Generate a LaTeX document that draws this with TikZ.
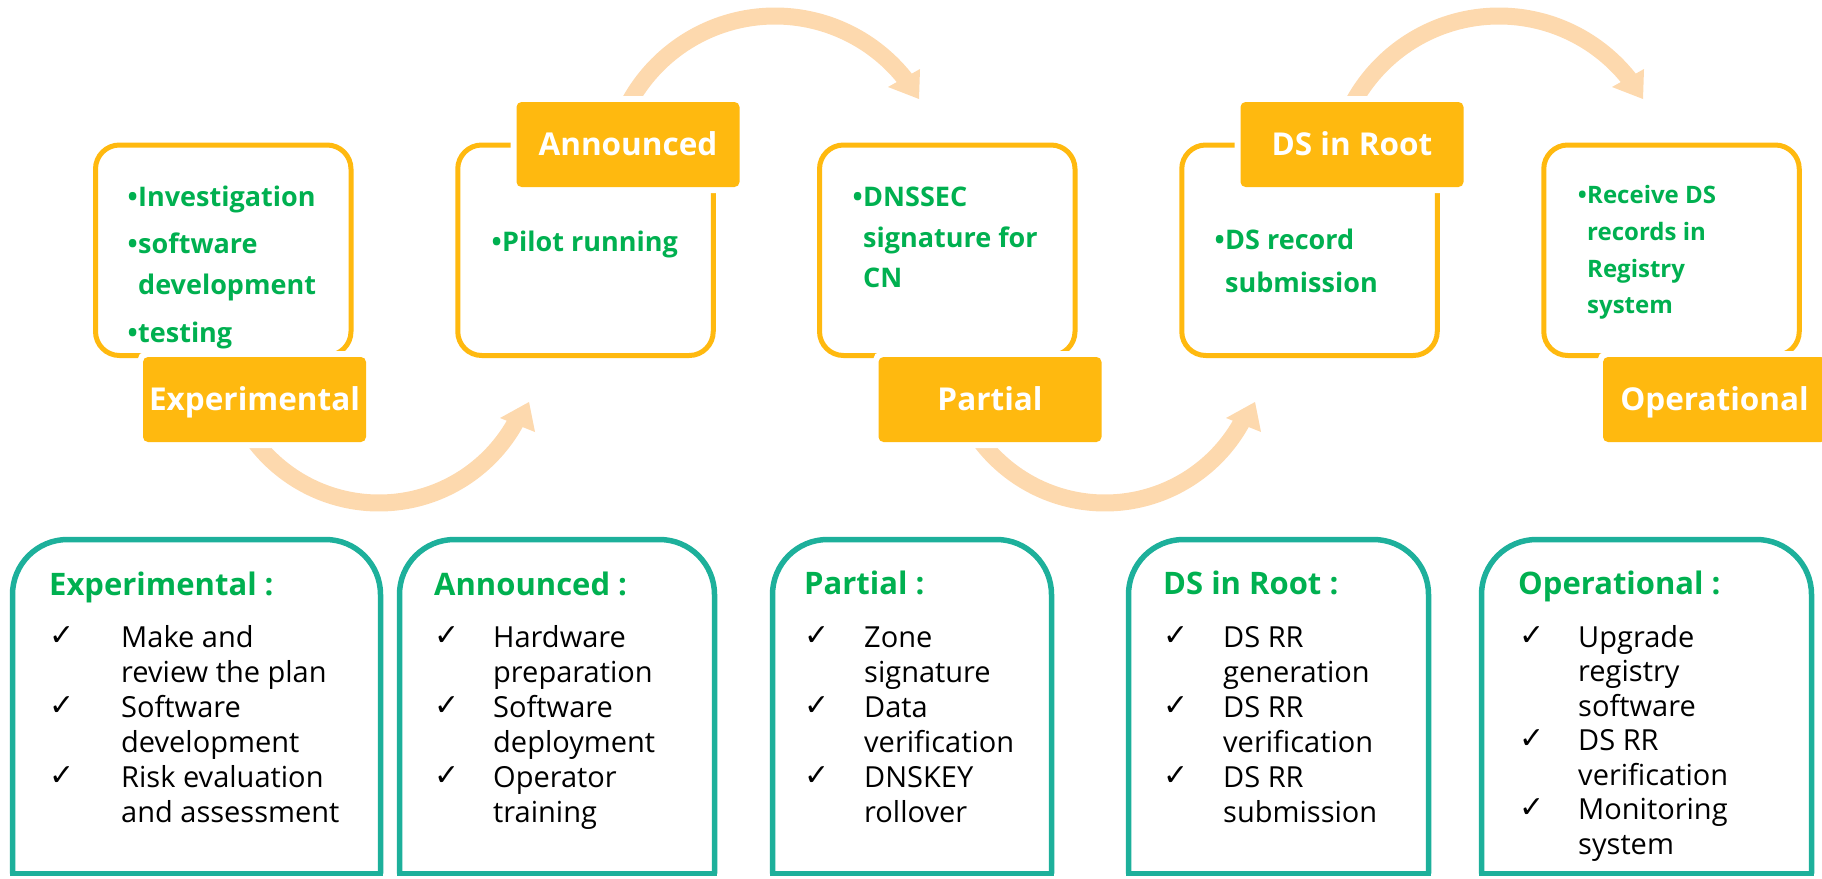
\documentclass[tikz,border=0pt]{standalone}
\usepackage{fontspec}
\setmainfont{Open Sans}
\newfontfamily\chkfont{DejaVu Sans}
\definecolor{orangeF}{HTML}{FFB90F}
\definecolor{peachA}{HTML}{FDD9AE}
\definecolor{greenT}{HTML}{00B050}
\definecolor{tealB}{HTML}{1DB09B}
\begin{document}
\begin{tikzpicture}[x=1pt,y=-1pt,
 frm/.style={draw=orangeF,line width=5pt,fill=white,rounded corners=24pt,minimum width=255.5pt,minimum height=210.5pt,inner sep=0pt},
 labbox/.style={fill=orangeF,rounded corners=5pt,preaction={draw=white,line width=12pt},minimum width=223pt,minimum height=85pt,inner sep=0pt,text=white,font=\fontsize{31.5pt}{38pt}\selectfont\bfseries,text height=22.5pt,text depth=0pt},
 arr/.style={draw=peachA,line width=17pt},
 arrhead/.style={fill=peachA},
 gtxt/.style={anchor=base west,inner sep=0pt,text=greenT,font=\fontsize{27pt}{32pt}\selectfont\bfseries},
 gbul/.style={anchor=base east,inner sep=0pt,text=greenT,font=\fontsize{27pt}{32pt}\selectfont\bfseries},
 gtxts/.style={anchor=base west,inner sep=0pt,text=greenT,font=\fontsize{24pt}{28pt}\selectfont\bfseries},
 gbuls/.style={anchor=base east,inner sep=0pt,text=greenT,font=\fontsize{24pt}{28pt}\selectfont\bfseries},
 tbox/.style={draw=tealB,line width=5.5pt},
 htxt/.style={anchor=base west,inner sep=0pt,text=greenT,font=\fontsize{31pt}{36pt}\selectfont\bfseries},
 ltxt/.style={anchor=base west,inner sep=0pt,font=\fontsize{29pt}{35pt}\selectfont},
 chk/.style={anchor=base west,inner sep=0pt,font=\chkfont\fontsize{30pt}{30pt}\selectfont}
]
\useasboundingbox (0,0) rectangle (1822,878);

% top frames
\node[frm] (fr1) at (223.25,250.25) {};
\node[frm] (fr2) at (585.5,250.25) {};
\node[frm] (fr3) at (947.25,250.25) {};
\node[frm] (fr4) at (1309.5,250.25) {};
\node[frm] (fr5) at (1671.5,250.25) {};

% curved arrows
\draw[arr] plot[domain=148:29,samples=90,variable=\t] ({379+156*cos(\t)},{347+156*sin(\t)});
\fill[arrhead] (529,402) -- (500,418) -- (535,432) -- cycle;
\draw[arr] plot[domain=205:322,samples=90,variable=\t] ({775+166*cos(\t)},{182+166*sin(\t)});
\fill[arrhead] (919,99) -- (888,87) -- (920,69) -- cycle;
\draw[arr] plot[domain=148:29,samples=90,variable=\t] ({1105+156*cos(\t)},{347+156*sin(\t)});
\fill[arrhead] (1255,402) -- (1226,418) -- (1261,432) -- cycle;
\draw[arr] plot[domain=205:322,samples=90,variable=\t] ({1499+166*cos(\t)},{182+166*sin(\t)});
\fill[arrhead] (1643,99) -- (1612,87) -- (1644,69) -- cycle;

% stage labels
\node[labbox] (l1) at (254.5,399.5) {Experimental};
\node[labbox] (l2) at (628,144.5) {Announced};
\node[labbox] (l3) at (990,399.5) {Partial};
\node[labbox] (l4) at (1352,144.5) {DS in Root};
\node[labbox] (l5) at (1714.5,399.5) {Operational};

% frame texts
\node[gbul] (p1b1) at (138,206) {•};
\node[gtxt] (p1a) at (138,206) {Investigation};
\node[gbul] (p1b2) at (138,253) {•};
\node[gtxt] (p1b) at (138,253) {software};
\node[gtxt] (p1c) at (138,294) {development};
\node[gbul] (p1b3) at (138,342) {•};
\node[gtxt] (p1d) at (138,342) {testing};

\node[gbul] (p2b1) at (502,251) {•};
\node[gtxt] (p2a) at (502,251) {Pilot running};

\node[gbul] (p3b1) at (863,206) {•};
\node[gtxt] (p3a) at (863,206) {DNSSEC};
\node[gtxt] (p3b) at (863,247) {signature for};
\node[gtxt] (p3c) at (863,287) {CN};

\node[gbul] (p4b1) at (1225,249) {•};
\node[gtxt] (p4a) at (1225,249) {DS record};
\node[gtxt] (p4b) at (1225,292) {submission};

\node[gbuls] (p5b1) at (1587,203) {•};
\node[gtxts] (p5a) at (1587,203) {Receive DS};
\node[gtxts] (p5b) at (1587,240) {records in};
\node[gtxts] (p5c) at (1587,277) {Registry};
\node[gtxts] (p5d) at (1587,313) {system};

% bottom boxes
\draw[tbox,rounded corners=55pt] (12.5,873.5) -- (12.5,539.5) -- (380.5,539.5) -- (380.5,873.5);
\draw[tbox,line cap=rect] (12.5,873.5) -- (380.5,873.5);
\draw[tbox,rounded corners=55pt] (399.5,873.5) -- (399.5,539.5) -- (714.5,539.5) -- (714.5,873.5);
\draw[tbox,line cap=rect] (399.5,873.5) -- (714.5,873.5);
\draw[tbox,rounded corners=55pt] (772.5,873.5) -- (772.5,539.5) -- (1051.5,539.5) -- (1051.5,873.5);
\draw[tbox,line cap=rect] (772.5,873.5) -- (1051.5,873.5);
\draw[tbox,rounded corners=55pt] (1128.5,873.5) -- (1128.5,539.5) -- (1428.5,539.5) -- (1428.5,873.5);
\draw[tbox,line cap=rect] (1128.5,873.5) -- (1428.5,873.5);
\draw[tbox,rounded corners=55pt] (1481.5,873.5) -- (1481.5,539.5) -- (1811.5,539.5) -- (1811.5,873.5);
\draw[tbox,line cap=rect] (1481.5,873.5) -- (1811.5,873.5);

% box 1
\node[htxt] (h1) at (49,595) {Experimental :};
\foreach \s [count=\i] in {Make and,review the plan,Software,development,Risk evaluation,and assessment}
  \node[ltxt] (b1l\i) at (121,{647+35*(\i-1)}) {\s};
\foreach \k in {1,3,5} \node[chk] (c1k\k) at (49,{645+35*(\k-1)}) {✓};

% box 2
\node[htxt] (h2) at (434,595) {Announced :};
\foreach \s [count=\i] in {Hardware,preparation,Software,deployment,Operator,training}
  \node[ltxt] (b2l\i) at (493,{647+35*(\i-1)}) {\s};
\foreach \k in {1,3,5} \node[chk] (c2k\k) at (434,{645+35*(\k-1)}) {✓};

% box 3
\node[htxt] (h3) at (804,594) {Partial :};
\foreach \s [count=\i] in {Zone,signature,Data,verification,DNSKEY,rollover}
  \node[ltxt] (b3l\i) at (864,{647+35*(\i-1)}) {\s};
\foreach \k in {1,3,5} \node[chk] (c3k\k) at (804,{645+35*(\k-1)}) {✓};

% box 4
\node[htxt] (h4) at (1163,594) {DS in Root :};
\foreach \s [count=\i] in {DS RR,generation,DS RR,verification,DS RR,submission}
  \node[ltxt] (b4l\i) at (1223,{647+35*(\i-1)}) {\s};
\foreach \k in {1,3,5} \node[chk] (c4k\k) at (1163,{645+35*(\k-1)}) {✓};

% box 5
\node[htxt] (h5) at (1518,594) {Operational :};
\foreach \s [count=\i] in {Upgrade,registry,software,DS RR,verification,Monitoring,system}
  \node[ltxt] (b5l\i) at (1578,{647+34.5*(\i-1)}) {\s};
\foreach \k in {1,4,6} \node[chk] (c5k\k) at (1519,{645+34.5*(\k-1)}) {✓};
\end{tikzpicture}
\end{document}
